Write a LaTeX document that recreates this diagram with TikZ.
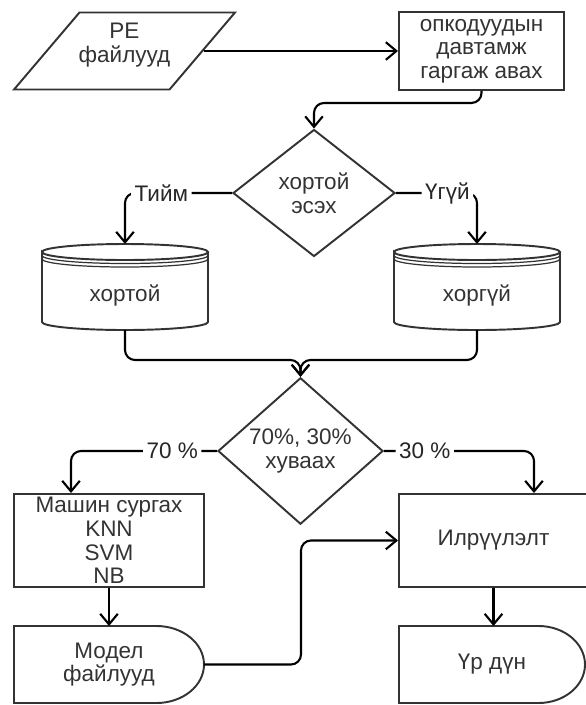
\documentclass[tikz,border=0pt]{standalone}
\usepackage{fontspec}
\setmainfont{Liberation Sans}
\usetikzlibrary{shapes.geometric,arrows.meta}

\tikzset{
  base/.style={draw=black!80, line width=1.1pt, text=black!80, align=center,
    font=\fontsize{12.8}{13.4}\selectfont, inner sep=0pt},
  io/.style={base, trapezium, trapezium left angle=54, trapezium right angle=126,
    trapezium stretches=true, inner sep=2pt, minimum width=4.42cm, minimum height=1.54cm},
  proc/.style={base, rectangle, minimum height=1.86cm},
  decision/.style={base, diamond},
  store/.style={base, draw=none, outer sep=0pt, minimum width=3.32cm, minimum height=1.72cm},
  delaynode/.style={base, draw=none, outer sep=0pt, minimum height=1.54cm},
  outline/.style={draw=black!80, line width=1.1pt},
  arr/.style={-{Straight Barb[length=6pt,width=10pt]}, line width=1.2pt, rounded corners=0.2cm},
  lbl/.style={fill=white, text=black!85, font=\fontsize{12.8}{13.4}\selectfont, inner sep=2pt}
}

% base de datos: nombre, posicion, texto
\newcommand{\datastore}[3]{%
  \node[store] (#1) at (#2) {};
  \node[base, draw=none] (#1-txt) at ([yshift=-0.16cm]#1.center) {#3};
  \draw[outline] ([yshift=-0.16cm]#1.north west)
    arc[start angle=180, end angle=-180, x radius=1.66cm, y radius=0.16cm]
    -- ([yshift=0.16cm]#1.south west)
    arc[start angle=180, end angle=360, x radius=1.66cm, y radius=0.16cm]
    -- ([yshift=-0.16cm]#1.north east);
  \foreach \k in {0.23,0.30}
    \draw[outline, line width=0.7pt] ([yshift=-\k cm]#1.north west)
      arc[start angle=180, end angle=360, x radius=1.66cm, y radius=0.16cm];
}

% retardo: nombre, posicion, ancho, texto
\newcommand{\delaybox}[4]{%
  \node[delaynode, minimum width=#3cm] (#1) at (#2) {#4};
  \draw[outline] (#1.north west) -- ([xshift=-#3cm/4]#1.north east)
    arc[start angle=90, end angle=-90, x radius=#3cm/4, y radius=0.77cm]
    -- (#1.south west) -- cycle;
}

\begin{document}
\begin{tikzpicture}
  \useasboundingbox (0,0) rectangle (11.72,-14.1);

  % Entrada y extraccion
  \node[io] (pe) at (2.49,-1.02) {};
  \node[base, draw=none] (pe-txt) at ([yshift=0.12cm]pe.center) {PE\\файлууд};
  \node[proc, minimum width=3.3cm, minimum height=1.56cm] (opc) at (9.63,-1.02)
    {опкодуудын\\давтамж\\гаргаж авах};

  % Decision
  \node[decision, minimum width=3.24cm, minimum height=2.54cm] (dec1) at (6.28,-3.86)
    {хортой\\эсэх};

  % Bases de datos
  \datastore{yes}{2.5,-5.74}{хортой}
  \datastore{no}{9.54,-5.74}{хоргүй}

  % Division 70/30
  \node[decision, minimum width=3.3cm, minimum height=2.48cm] (dec2) at (6.01,-9.02)
    {70\%, 30\%\\хуваах};

  \node[proc, minimum width=3.8cm] (train) at (2.18,-10.81)
    {Машин сургах\\KNN\\SVM\\NB};
  \node[proc, minimum width=3.78cm] (detect) at (9.87,-10.81) {Илрүүлэлт};

  \delaybox{model}{2.18,-13.29}{3.8}{Модел\\файлууд}
  \delaybox{result}{9.84,-13.29}{3.72}{Үр дүн}

  % Conectores
  \draw[arr] (pe.east) -- (opc.west);
  \draw[arr] (opc.south) -- ++(0,-0.24) -| (dec1.north);
  \draw[arr] (dec1.west) -| node[lbl, pos=0.33] (lyes) {Тийм} (yes.north);
  \draw[arr] (dec1.east) -| node[lbl, pos=0.317] (lno) {Үгүй} (no.north);
  \draw[arr] (yes.south) -- ++(0,-0.6) -| (dec2.north);
  \draw[arr] (no.south) -- ++(0,-0.6) -| (dec2.north);
  \draw[arr] (dec2.west) -| node[lbl, pos=0.153] (l70) {70 \%} ([xshift=-0.76cm]train.north);
  \draw[arr] (dec2.east) -| node[lbl, pos=0.136] (l30) {30 \%} ([xshift=0.81cm]detect.north);
  \draw[arr] (train.south) -- (model.north);
  \draw[arr] (detect.south) -- (detect.south |- result.north);
  \draw[arr] (model.east) -- ++(1.94,0) |- (detect.west);
\end{tikzpicture}
\end{document}
